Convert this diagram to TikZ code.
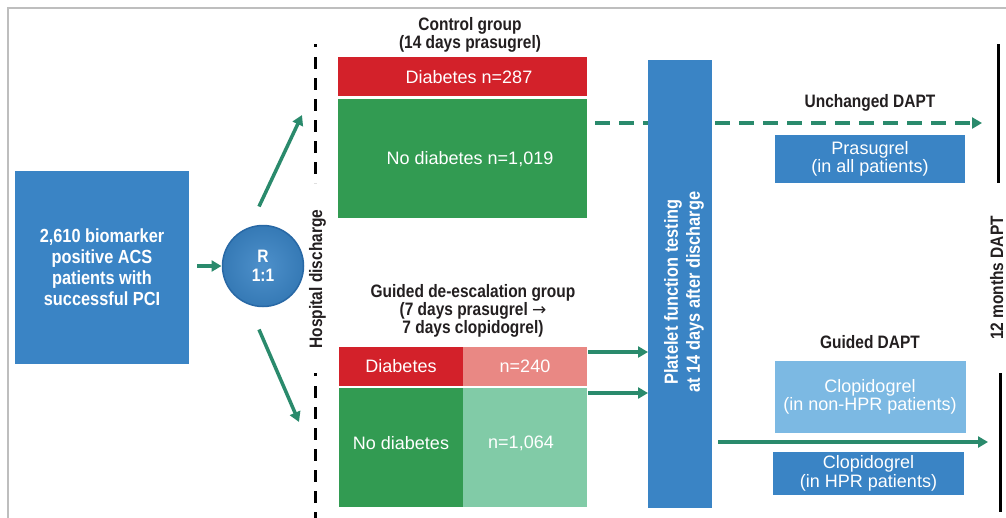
\documentclass[tikz,border=0pt]{standalone}
\usepackage{fontspec}
\setmainfont{Liberation Sans}
\newfontfamily\condfont[FakeStretch=0.86]{Liberation Sans}
\newfontfamily\arrowfont{DejaVu Sans}
\usetikzlibrary{arrows.meta}
\definecolor{cblue}{RGB}{58,132,197}
\definecolor{cbluedark}{RGB}{40,104,165}
\definecolor{clightblue}{RGB}{124,185,227}
\definecolor{cred}{RGB}{211,33,42}
\definecolor{clightred}{RGB}{233,136,132}
\definecolor{cgreen}{RGB}{50,155,82}
\definecolor{clightgreen}{RGB}{129,203,167}
\definecolor{agreen}{RGB}{42,138,108}
\definecolor{ctext}{RGB}{35,31,32}
\definecolor{frame}{RGB}{190,190,190}
\tikzset{
  box/.style={rectangle, inner sep=0pt, outer sep=0pt, text=white, align=center,
    font={\fontsize{18pt}{18.5pt}\selectfont}},
  boldbox/.style={rectangle, inner sep=0pt, outer sep=0pt, text=white, align=center,
    font={\condfont\bfseries\fontsize{19pt}{21pt}\selectfont}},
  title/.style={inner sep=0pt, text=ctext, align=center,
    font={\condfont\bfseries\fontsize{18pt}{18pt}\selectfont}},
  garrow/.style={draw=agreen, line width=3.5pt, -{Triangle[length=10pt,width=11pt]}},
  gdash/.style={draw=agreen, line width=4pt, dash pattern=on 15pt off 9pt, -{Triangle[length=10pt,width=11pt]}},
  bdash/.style={draw=black, line width=3pt, dash pattern=on 12pt off 9pt},
  bline/.style={draw=black, line width=3pt}
}
\begin{document}
\begin{tikzpicture}[x=1pt,y=-1pt]
\useasboundingbox (0,0) rectangle (1006,517);
\fill[white] (0,0) rectangle (1006,517);
% frame
\draw[frame, line width=2pt] (8,520) -- (8,8) -- (1010,8);

% source box
\node[boldbox, fill=cblue, minimum width=174pt, minimum height=193pt] (src) at (102,267)
  {2,610 biomarker\\positive ACS\\patients with\\successful PCI};

% randomisation circle
\node[circle, minimum size=81pt, inner sep=0pt, outer sep=0pt, draw=cbluedark, line width=1.5pt,
  inner color=cblue!90!white, outer color=cblue!92!black, text=white, align=center,
  font={\condfont\bfseries\fontsize{18pt}{19pt}\selectfont}] (rc) at (263,266) {R\\1:1};

\draw[garrow, shorten <=8pt, shorten >=1pt] (src.east |- rc.west) -- (rc.west);
\coordinate (upend) at (302,115);
\coordinate (downend) at (299,422);
\draw[garrow] ([shift={(-4,-19)}]rc.north) -- (upend);
\draw[garrow] ([shift={(-4,23)}]rc.south) -- (downend);

% hospital discharge line
\coordinate (hd1) at (315,44);
\coordinate (hd2) at (315,183);
\coordinate (hd3) at (315,373);
\coordinate (hd4) at (315,520);
\draw[bline] (hd1) -- ([shift={(0,3)}]hd1);
\draw[bdash] ([shift={(0,13)}]hd1) -- (hd2);
\draw[bline] (hd3) -- ([shift={(0,3)}]hd3);
\draw[bdash] ([shift={(0,13)}]hd3) -- (hd4);
\node[title, rotate=90, anchor=base] (hdtxt) at (322,279) {Hospital discharge};

% control group
\node[title] (ctitle) at (470,35) {Control group\\(14 days prasugrel)};
\node[box, fill=cred, minimum width=249pt, minimum height=39pt] (cred) at (462.5,76.5) {};
\node[box] (credt) at (469,77) {Diabetes n=287};
\node[box, fill=cgreen, minimum width=249pt, minimum height=119pt] (cgr) at (462.5,158.5) {};
\node[box] (cgrt) at (470,159) {No diabetes n=1,019};

% guided group
\node[title] (gtitle) at (473,311) {Guided de-escalation group\\(7 days prasugrel {\arrowfont\mdseries\fontsize{17pt}{17pt}\selectfont →}\\7 days clopidogrel)};
\node[box, fill=cred, minimum width=124pt, minimum height=39pt] (gred) at (401,366.5) {Diabetes};
\node[box, fill=clightred, minimum width=124pt, minimum height=39pt] (gred2) at (525,366.5) {n=240};
\node[box, fill=cgreen, minimum width=124pt, minimum height=119pt] (ggr) at (401,447.5) {};
\node[box] (ggrt) at (401,443) {No diabetes};
\node[box, fill=clightgreen, minimum width=124pt, minimum height=119pt] (ggr2) at (525,447.5) {};
\node[box] (ggr2t) at (521,443) {n=1,064};

% dashed arrow (behind platelet box)
\coordinate (dend) at (982,123);
\draw[gdash] ([shift={(8,24)}]cgr.north east) -- (dend);

% platelet box
\node[boldbox, fill=cblue, minimum width=64pt, minimum height=448pt] (plt) at (680,284) {};
\node[boldbox, rotate=90, font={\condfont\bfseries\fontsize{19pt}{22pt}\selectfont}] (pltt) at (684,292)
  {Platelet function testing\\at 14 days after discharge};

\coordinate (a1) at (588,352);
\coordinate (a2) at (588,393);
\draw[garrow] (a1) -- (a1 -| plt.west);
\draw[garrow] (a2) -- (a2 -| plt.west);

% right side
\node[title] (unch) at (870,103) {Unchanged DAPT};
\node[box, fill=cblue, minimum width=190pt, minimum height=48pt] (pras) at (870,159) {Prasugrel\\(in all patients)};
\node[title] (gd) at (870,342) {Guided DAPT};
\node[box, fill=clightblue, minimum width=191pt, minimum height=72pt] (clo1) at (870,397) {Clopidogrel\\(in non-HPR patients)};
\coordinate (send) at (988,442);
\draw[garrow] ([shift={(6,0)}]plt.east |- send) -- (send);
\node[box, fill=cblue, minimum width=191pt, minimum height=43pt] (clo2) at (868.5,473.5) {Clopidogrel\\(in HPR patients)};

% 12 months line
\coordinate (m1) at (998,44);
\coordinate (m2) at (998,183);
\coordinate (m3) at (1000,373);
\coordinate (m4) at (1000,512);
\draw[bline] (m1) -- (m2);
\draw[bline] (m3) -- (m4);
\node[title, rotate=90, anchor=base] (mon) at (1003,278) {12 months DAPT};
\end{tikzpicture}
\end{document}
